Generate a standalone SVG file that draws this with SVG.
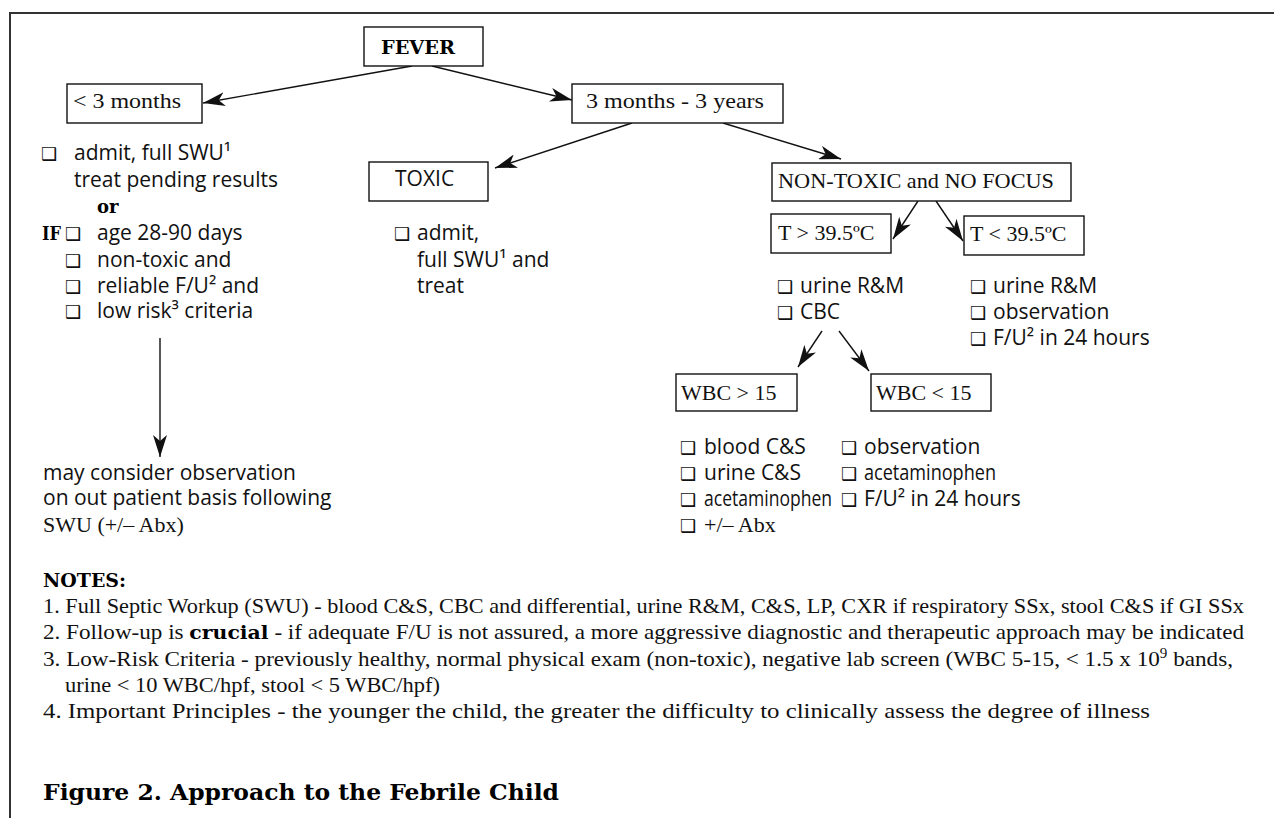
<svg xmlns="http://www.w3.org/2000/svg" width="1274" height="818" viewBox="0 0 1274 818">
<style>
.bx{fill:#fff;stroke:#111;stroke-width:1.4}
.sr{font-family:"Liberation Serif","Times New Roman",serif;font-size:22px;fill:#111}
.ss{font-family:"Open Sans","Noto Sans","DejaVu Sans",sans-serif;font-size:21px;fill:#111}
.nt{font-family:"Liberation Serif","Times New Roman",serif;font-size:21.5px;fill:#111}
.bd{font-family:"DejaVu Serif","Liberation Serif",serif;font-weight:bold;fill:#000}
.cb{font-family:"DejaVu Sans",sans-serif;font-size:18px;fill:#111}
.cn{stroke:#111;stroke-width:1.4;fill:none;marker-end:url(#ah)}
</style>
<defs>
<marker id="ah" markerUnits="userSpaceOnUse" markerWidth="23" markerHeight="14" refX="22" refY="7" orient="auto">
<path d="M0,0 L22,7 L0,14 L6,7 z" fill="#111"/>
</marker>
</defs>
<rect width="1274" height="818" fill="#fff"/>
<path d="M9,13 H1274 M10,13 V818" stroke="#333" stroke-width="2" fill="none"/>

<g id="connectors">
<line class="cn" x1="412" y1="66" x2="203" y2="103"/>
<line class="cn" x1="432" y1="66" x2="572" y2="100"/>
<line class="cn" x1="632" y1="123" x2="495" y2="168"/>
<line class="cn" x1="723" y1="123" x2="841" y2="159"/>
<line class="cn" x1="918" y1="201" x2="893" y2="239"/>
<line class="cn" x1="936" y1="201" x2="963" y2="241"/>
<line class="cn" x1="822" y1="331" x2="798" y2="367"/>
<line class="cn" x1="839" y1="331" x2="869" y2="371"/>
<line class="cn" x1="160" y1="338" x2="160" y2="457"/>
</g>

<g id="fever">
<rect class="bx" x="364" y="27" width="119" height="39"/>
<text class="bd" x="381" y="54" font-size="18" textLength="74" lengthAdjust="spacingAndGlyphs">FEVER</text>
</g>

<g id="lt3m">
<rect class="bx" x="67" y="84" width="135" height="39"/>
<text class="sr" x="73" y="108" textLength="108" lengthAdjust="spacingAndGlyphs">&lt; 3 months</text>
</g>

<g id="m3y3">
<rect class="bx" x="572" y="84" width="211" height="39"/>
<text class="sr" x="586" y="108" textLength="178" lengthAdjust="spacingAndGlyphs">3 months - 3 years</text>
</g>

<g id="lt3m-list">
<text class="cb" x="41" y="160">❑</text>
<text class="ss" x="74" y="160">admit, full SWU¹</text>
<text class="ss" x="74" y="187">treat pending results</text>
<text class="bd" x="97" y="213" font-size="18">or</text>
<text class="bd" x="42" y="240" font-size="19" textLength="19" lengthAdjust="spacingAndGlyphs">IF</text>
<text class="cb" x="65" y="240">❑</text>
<text class="ss" x="97" y="240">age 28-90 days</text>
<text class="cb" x="65" y="267">❑</text>
<text class="ss" x="97" y="267">non-toxic and</text>
<text class="cb" x="65" y="293">❑</text>
<text class="ss" x="97" y="293">reliable F/U² and</text>
<text class="cb" x="65" y="318">❑</text>
<text class="ss" x="97" y="318">low risk³ criteria</text>
</g>

<g id="outpatient">
<text class="ss" x="43" y="480" font-size="20.5">may consider observation</text>
<text class="ss" x="43" y="505" font-size="20.5">on out patient basis following</text>
<text class="sr" x="43" y="532">SWU (+/– Abx)</text>
</g>

<g id="toxic">
<rect class="bx" x="369" y="162" width="119" height="39"/>
<text class="ss" x="395" y="186">TOXIC</text>
</g>

<g id="toxic-list">
<text class="cb" x="394" y="240">❑</text>
<text class="ss" x="417" y="240">admit,</text>
<text class="ss" x="417" y="267">full SWU¹ and</text>
<text class="ss" x="417" y="293">treat</text>
</g>

<g id="nontoxic">
<rect class="bx" x="772" y="163" width="299" height="38"/>
<text class="sr" x="778" y="188" textLength="276" lengthAdjust="spacingAndGlyphs">NON-TOXIC and NO FOCUS</text>
</g>

<g id="tgt">
<rect class="bx" x="771" y="214" width="120" height="39"/>
<text class="sr" x="778" y="240">T &gt; 39.5ºC</text>
</g>

<g id="tlt">
<rect class="bx" x="964" y="216" width="120" height="39"/>
<text class="sr" x="970" y="241">T &lt; 39.5ºC</text>
</g>

<g id="tgt-list">
<text class="cb" x="777" y="293">❑</text>
<text class="ss" x="800" y="293">urine R&amp;M</text>
<text class="cb" x="777" y="319">❑</text>
<text class="ss" x="800" y="319">CBC</text>
</g>

<g id="tlt-list">
<text class="cb" x="970" y="293">❑</text>
<text class="ss" x="993" y="293">urine R&amp;M</text>
<text class="cb" x="970" y="319">❑</text>
<text class="ss" x="993" y="319">observation</text>
<text class="cb" x="970" y="345">❑</text>
<text class="ss" x="993" y="345">F/U² in 24 hours</text>
</g>

<g id="wbcgt">
<rect class="bx" x="676" y="374" width="121" height="37"/>
<text class="sr" x="681" y="400">WBC &gt; 15</text>
</g>

<g id="wbclt">
<rect class="bx" x="871" y="374" width="120" height="37"/>
<text class="sr" x="876" y="400">WBC &lt; 15</text>
</g>

<g id="wbcgt-list">
<text class="cb" x="680" y="454">❑</text>
<text class="ss" x="704" y="454">blood C&amp;S</text>
<text class="cb" x="680" y="480">❑</text>
<text class="ss" x="704" y="480">urine C&amp;S</text>
<text class="cb" x="680" y="506">❑</text>
<text class="ss" x="704" y="506" textLength="128" lengthAdjust="spacingAndGlyphs">acetaminophen</text>
<text class="cb" x="680" y="532">❑</text>
<text class="sr" x="704" y="532">+/– Abx</text>
</g>

<g id="wbclt-list">
<text class="cb" x="841" y="454">❑</text>
<text class="ss" x="864" y="454">observation</text>
<text class="cb" x="841" y="480">❑</text>
<text class="ss" x="864" y="480" textLength="132" lengthAdjust="spacingAndGlyphs">acetaminophen</text>
<text class="cb" x="841" y="506">❑</text>
<text class="ss" x="864" y="506">F/U² in 24 hours</text>
</g>

<g id="notes">
<text class="bd" x="43" y="587" font-size="18" textLength="83" lengthAdjust="spacingAndGlyphs">NOTES:</text>
<text class="nt" x="43" y="613" textLength="1201" lengthAdjust="spacingAndGlyphs">1. Full Septic Workup (SWU) - blood C&amp;S, CBC and differential, urine R&amp;M, C&amp;S, LP, CXR if respiratory SSx, stool C&amp;S if GI SSx</text>
<text class="nt" x="43" y="639" textLength="1201" lengthAdjust="spacingAndGlyphs">2. Follow-up is <tspan class="bd" font-size="19">crucial</tspan> - if adequate F/U is not assured, a more aggressive diagnostic and therapeutic approach may be indicated</text>
<text class="nt" x="43" y="666" textLength="1190" lengthAdjust="spacingAndGlyphs">3. Low-Risk Criteria - previously healthy, normal physical exam (non-toxic), negative lab screen (WBC 5-15, &lt; 1.5 x 10<tspan dy="-8" font-size="14">9</tspan><tspan dy="8"> bands,</tspan></text>
<text class="nt" x="65" y="692" textLength="375" lengthAdjust="spacingAndGlyphs">urine &lt; 10 WBC/hpf, stool &lt; 5 WBC/hpf)</text>
<text class="nt" x="43" y="718" textLength="1107" lengthAdjust="spacingAndGlyphs">4. Important Principles - the younger the child, the greater the difficulty to clinically assess the degree of illness</text>
</g>

<g id="caption">
<text class="bd" x="43" y="800" font-size="22" textLength="516" lengthAdjust="spacingAndGlyphs">Figure 2. Approach to the Febrile Child</text>
</g>
</svg>
